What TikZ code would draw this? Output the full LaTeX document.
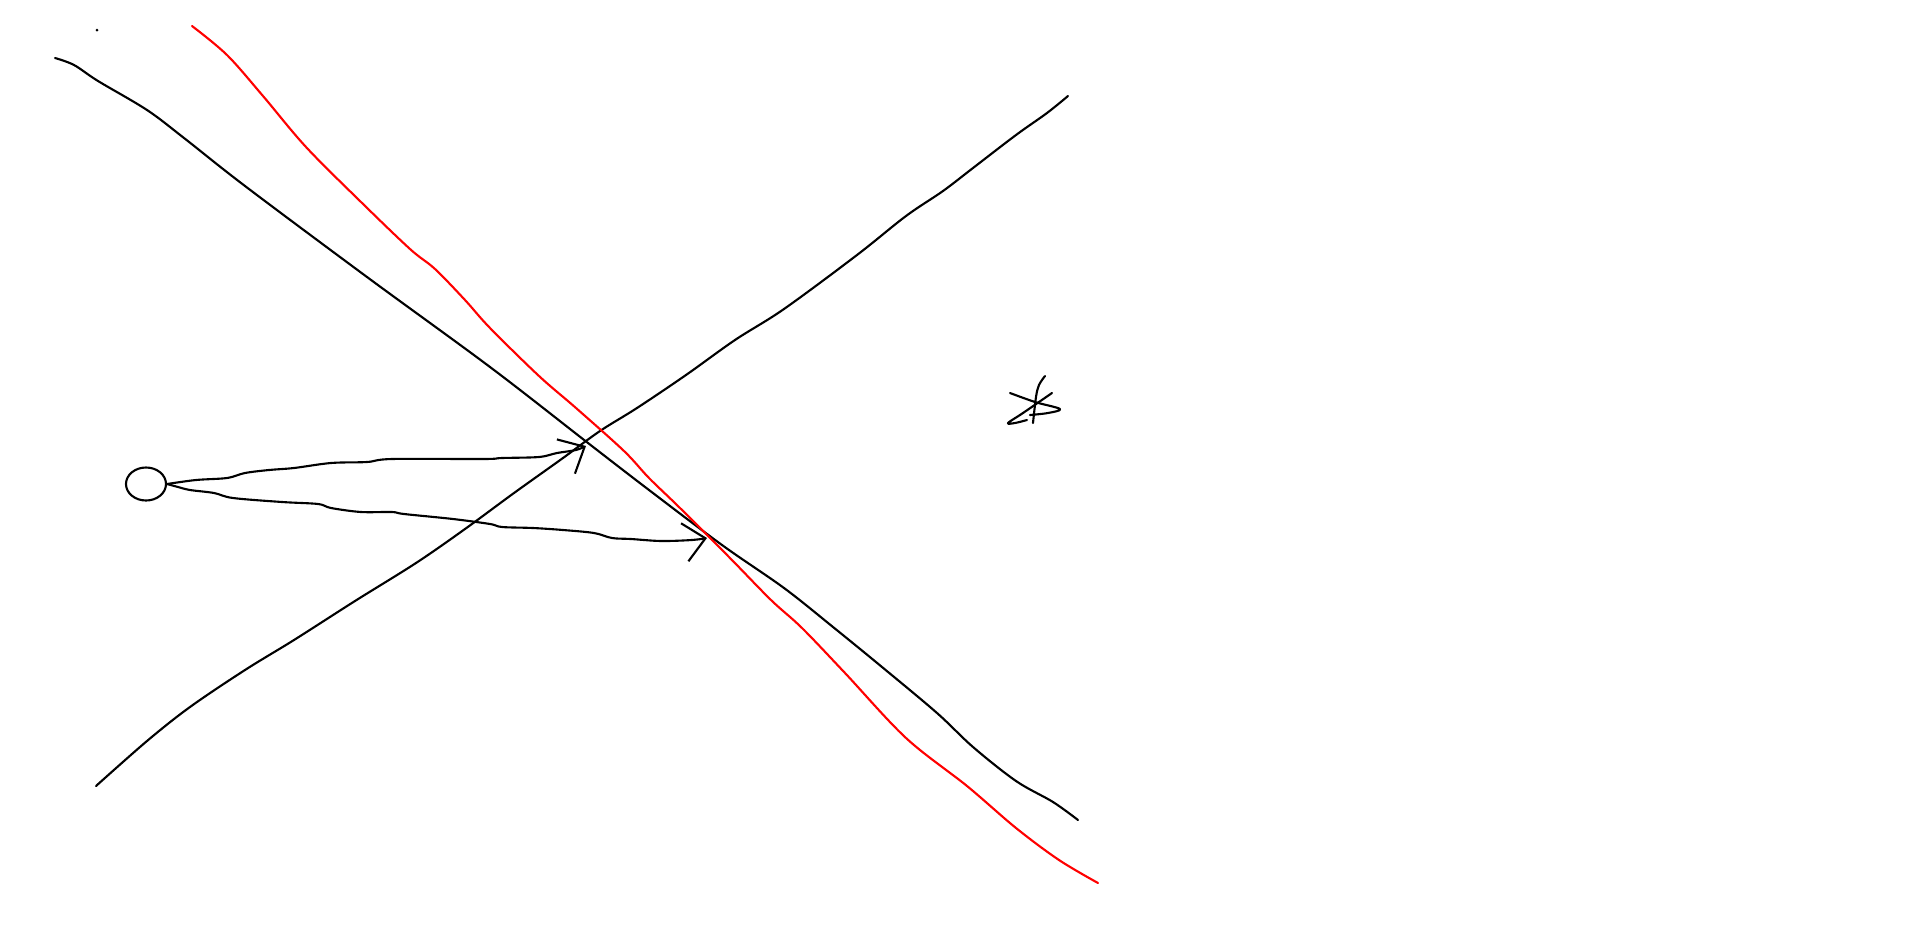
\documentclass[tikz,border=0pt]{standalone}
\usepackage{tikz}
\usetikzlibrary{arrows.meta,shapes.geometric}
\tikzset{
  pen/.style={line width=0.6pt, line cap=round, line join=round},
  redpen/.style={pen, red},
  wavy/.style={smooth, tension=0.55},
  barb/.style={-{Straight Barb[length=6pt,width=11pt]}},
}
\begin{document}
\begin{tikzpicture}[x=0.01cm,y=-0.01cm]
  \useasboundingbox (0,0) rectangle (1920,948);
  % stray dot top left
  \fill (97,30) circle (1.5);
  % descending black line
  \draw[pen] plot[wavy] coordinates {(55,58) (74,65) (98,81) (147,110) (184,138)
    (245,186) (367,277) (490,367) (588,443) (649,490) (722,545) (784,588)
    (833,627) (882,667) (937,713) (973,747) (1016,781) (1053,802) (1078,820)};
  % ascending black line
  \draw[pen] plot[wavy] coordinates {(96,786) (147,741) (190,707) (245,670)
    (294,640) (355,601) (416,563) (465,529) (514,493) (563,458) (600,431)
    (637,408) (686,375) (735,340) (784,309) (857,255) (906,216) (943,191)
    (973,168) (1016,135) (1047,113) (1068,96)};
  % red line
  \draw[redpen] plot[wavy] coordinates {(192,26) (227,55) (263,96) (306,147)
    (361,202) (410,249) (435,269) (465,300) (490,328) (539,376) (576,408)
    (624,451) (649,478) (680,508) (729,557) (771,600) (802,628) (845,673)
    (906,738) (967,786) (1016,828) (1059,860) (1098,883)};
  % source loop and its two arrows
  \node[pen, draw, ellipse, inner sep=0pt, minimum width=0.4cm,
    minimum height=0.33cm] (src) at (146,484) {};
  \coordinate (tipA) at (586,446);
  \coordinate (tipB) at (707,538);
  \draw[pen, barb] plot[wavy] coordinates {(src.east) (196,480) (227,478)
    (245,473) (269,470) (294,468) (331,463) (367,462) (392,459) (484,459)
    (502,458) (539,457) (557,453) (576,450) (tipA)};
  \draw[pen, barb] plot[wavy] coordinates {(src.east) (178,487) (190,490)
    (214,493) (233,498) (282,502) (318,504) (331,508) (361,512) (392,512)
    (404,514) (453,519) (490,524) (502,527) (533,528) (563,530) (594,533)
    (612,538) (631,539) (661,541) (692,540) (tipB)};
  % star
  \draw[pen] plot[wavy] coordinates {(1045,376) (1039,385) (1036,397) (1033,423)};
  \draw[pen] plot[wavy] coordinates {(1010,393) (1035,402) (1060,409)
    (1048,413) (1030,415)};
  \draw[pen] plot[wavy] coordinates {(1052,393) (1023,413) (1008,423)
    (1015,423) (1027,420)};
\end{tikzpicture}
\end{document}
